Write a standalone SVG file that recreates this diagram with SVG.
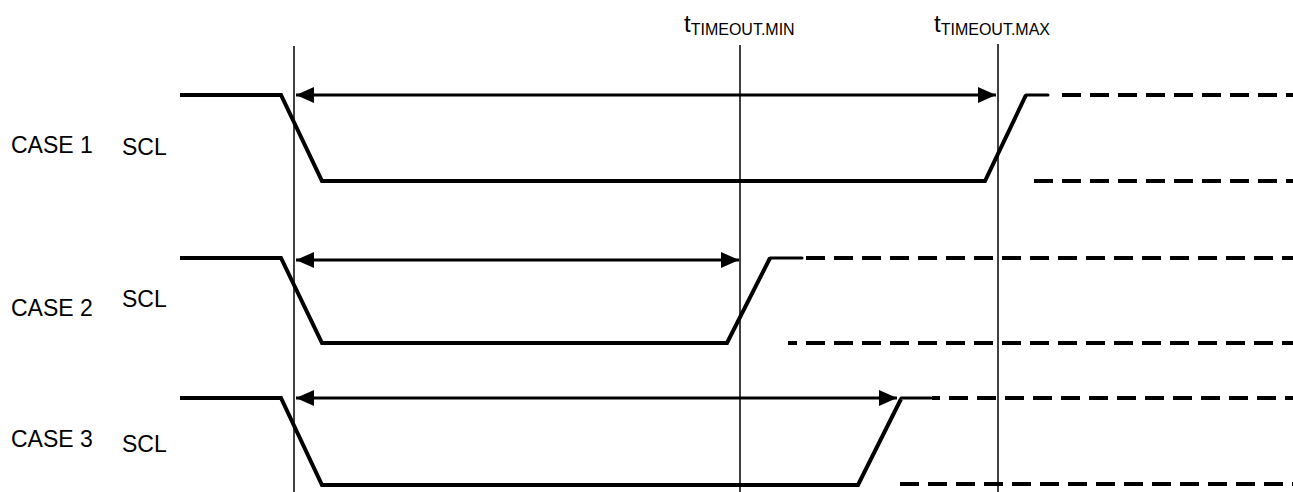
<svg xmlns="http://www.w3.org/2000/svg" width="1293" height="492" viewBox="0 0 1293 492">
<style>
text{font-family:"Liberation Sans",Arial,sans-serif;fill:#000}
.lbl{font-size:23px}
.t{font-size:24px}
.sub{font-size:16px}
.sig{fill:none;stroke:#000;stroke-width:4;stroke-linejoin:miter}
.stub{fill:none;stroke:#000;stroke-width:3;stroke-linecap:round}
.dash{fill:none;stroke:#000;stroke-width:4;stroke-dasharray:19 9}
.vl{fill:none;stroke:#000;stroke-width:1.5}
.arr{fill:none;stroke:#000;stroke-width:3;marker-start:url(#ah);marker-end:url(#ah)}
</style>
<defs>
<marker id="ah" viewBox="0 0 18 16" refX="18" refY="8" markerWidth="18" markerHeight="16" markerUnits="userSpaceOnUse" orient="auto-start-reverse">
<path d="M0,0 L18,8 L0,16 Z" fill="#000"/>
</marker>
</defs>
<g id="timing-markers">
<line class="vl" x1="294" y1="46" x2="294" y2="492"/>
<line class="vl" x1="740" y1="45" x2="740" y2="492"/>
<line class="vl" x1="998" y1="44" x2="998" y2="492"/>
<text class="t" x="684" y="32">t<tspan class="sub" dy="3">TIMEOUT.MIN</tspan></text>
<text class="t" x="934" y="32">t<tspan class="sub" dy="3">TIMEOUT.MAX</tspan></text>
</g>
<g id="case1">
<text class="lbl" x="11" y="153">CASE 1</text>
<text class="lbl" x="122" y="155">SCL</text>
<polyline class="sig" points="180,95 281,95 322,181 985,181 1026,95"/>
<line class="stub" x1="1026" y1="95" x2="1048" y2="95"/>
<line class="dash" x1="1062" y1="95" x2="1293" y2="95"/>
<line class="dash" x1="1034" y1="181" x2="1293" y2="181"/>
</g>
<g id="case2">
<text class="lbl" x="11" y="316">CASE 2</text>
<text class="lbl" x="122" y="307">SCL</text>
<polyline class="sig" points="180,258 281,258 322,343 727,343 770,258"/>
<line class="stub" x1="770" y1="258" x2="802" y2="258"/>
<line class="dash" x1="806" y1="258" x2="1293" y2="258"/>
<line class="dash" x1="788" y1="343" x2="1293" y2="343" stroke-dashoffset="10"/>
</g>
<g id="case3">
<text class="lbl" x="11" y="447">CASE 3</text>
<text class="lbl" x="122" y="452">SCL</text>
<polyline class="sig" points="180,398 281,398 322,485 858,485 901,399"/>
<line class="stub" x1="901" y1="398" x2="931" y2="398"/>
<line class="dash" x1="932" y1="398" x2="1293" y2="398" stroke-dashoffset="11"/>
<line class="dash" x1="900" y1="484" x2="1293" y2="484"/>
</g>
<g id="connectors">
<line class="arr" x1="296" y1="95" x2="996" y2="95"/>
<line class="arr" x1="296" y1="260" x2="739" y2="260"/>
<line class="arr" x1="296" y1="398" x2="897" y2="398"/>
</g>
</svg>
